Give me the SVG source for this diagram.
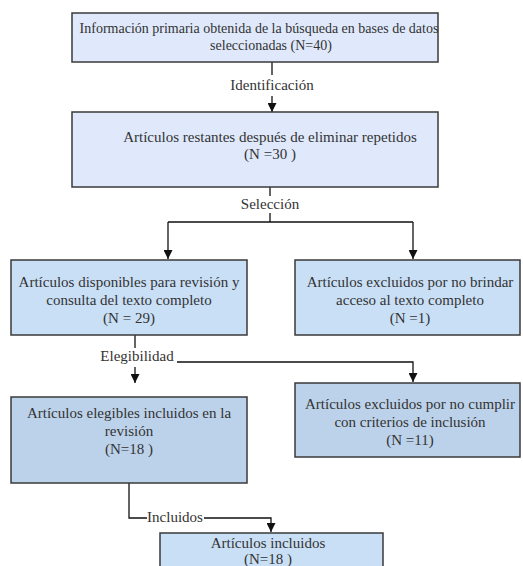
<svg xmlns="http://www.w3.org/2000/svg" width="523" height="566" viewBox="0 0 523 566">
<defs>
<style>
.box{stroke:#3a3a3a;stroke-width:1.5}
.b1{fill:#dfe9fb}
.b2{fill:#c9dff6}
.b3{fill:#bcd2ea}
.ln{fill:none;stroke:#111;stroke-width:1.3}
</style>
<marker id="ah" viewBox="0 0 10 10" refX="10" refY="5" markerWidth="9" markerHeight="9" markerUnits="userSpaceOnUse" orient="auto">
<path d="M0,0 L10,5 L0,10 z" fill="#111"/>
</marker>
</defs>
<rect width="523" height="566" fill="#fff"/>
<g font-family="Liberation Serif, Times New Roman, DejaVu Serif, serif" font-size="15" fill="#333" text-anchor="middle">
<g id="connectors">
<path class="ln" d="M272,62 V75"/>
<path class="ln" d="M272,96 V112" marker-end="url(#ah)"/>
<path class="ln" d="M270,187 V196"/>
<path class="ln" d="M270,213 V222 M168,222 H413"/>
<path class="ln" d="M168,222 V259" marker-end="url(#ah)"/>
<path class="ln" d="M413,222 V259" marker-end="url(#ah)"/>
<path class="ln" d="M135,335 V348"/>
<path class="ln" d="M135,367 V383" marker-end="url(#ah)"/>
<path class="ln" d="M177,362 H413 V382" marker-end="url(#ah)"/>
<path class="ln" d="M129,483 V518 H147"/>
<path class="ln" d="M204,518 H271 V532" marker-end="url(#ah)"/>
<text x="272" y="90">Identificación</text>
<text x="270" y="209">Selección</text>
<text x="137" y="361">Elegibilidad</text>
<text x="175" y="522">Incluidos</text>
</g>

<g id="n1">
<rect class="box b1" x="72" y="13" width="366" height="49"/>
<text x="259" y="33" font-size="14">Información primaria obtenida de la búsqueda en bases de datos</text>
<text x="271" y="50" font-size="14">seleccionadas (N=40)</text>
</g>

<g id="n2">
<rect class="box b1" x="72" y="112" width="366" height="75"/>
<text x="270" y="142">Artículos restantes después de eliminar repetidos</text>
<text x="270" y="159">(N =30 )</text>
</g>

<g id="n3">
<rect class="box b2" x="11" y="260" width="236" height="75"/>
<text x="129" y="287">Artículos disponibles para revisión y</text>
<text x="129" y="305">consulta del texto completo</text>
<text x="129" y="323">(N = 29)</text>
</g>

<g id="n4">
<rect class="box b2" x="295" y="260" width="225" height="75"/>
<text x="410" y="287">Artículos excluidos por no brindar</text>
<text x="410" y="305">acceso al texto completo</text>
<text x="410" y="323">(N =1)</text>
</g>

<g id="n5">
<rect class="box b3" x="11" y="397" width="236" height="86"/>
<text x="129" y="418">Artículos elegibles incluidos en la</text>
<text x="129" y="436">revisión</text>
<text x="129" y="454">(N=18 )</text>
</g>

<g id="n6">
<rect class="box b3" x="295" y="383" width="225" height="74"/>
<text x="410" y="409">Artículos excluidos por no cumplir</text>
<text x="410" y="427">con criterios de inclusión</text>
<text x="410" y="445">(N =11)</text>
</g>

<g id="n7">
<rect class="box b2" x="160" y="533" width="223" height="40"/>
<text x="268" y="548">Artículos incluidos</text>
<text x="268" y="564">(N=18 )</text>
</g>
</g>
</svg>
